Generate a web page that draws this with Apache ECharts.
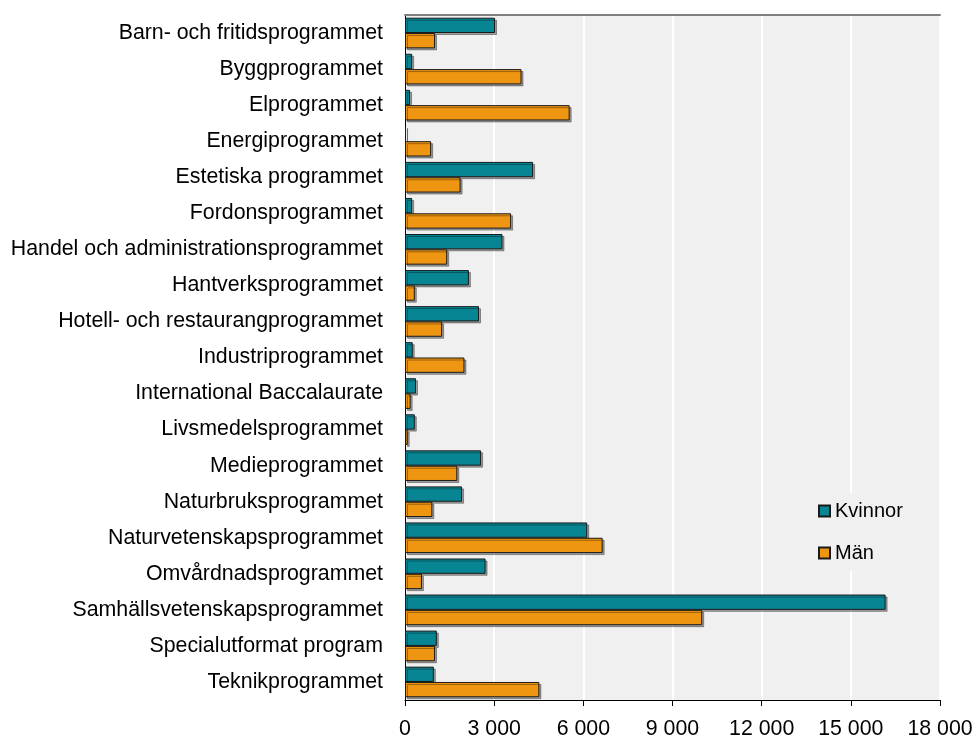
<!DOCTYPE html>
<html>
<head>
<meta charset="utf-8">
<script src="https://cdn.jsdelivr.net/npm/echarts@6/dist/echarts.min.js"></script>
<style>
html,body{margin:0;padding:0;background:#fff;}
#chart{width:976px;height:740px;}
</style>
</head>
<body>
<div id="chart"></div>
<script>
var categories = [
  "Barn- och fritidsprogrammet",
  "Byggprogrammet",
  "Elprogrammet",
  "Energiprogrammet",
  "Estetiska programmet",
  "Fordonsprogrammet",
  "Handel och administrationsprogrammet",
  "Hantverksprogrammet",
  "Hotell- och restaurangprogrammet",
  "Industriprogrammet",
  "International Baccalaurate",
  "Livsmedelsprogrammet",
  "Medieprogrammet",
  "Naturbruksprogrammet",
  "Naturvetenskapsprogrammet",
  "Omvårdnadsprogrammet",
  "Samhällsvetenskapsprogrammet",
  "Specialutformat program",
  "Teknikprogrammet"
];
var kvinnor = [3030, 240, 170, 35, 4310, 240, 3280, 2150, 2490, 260, 370, 330, 2560, 1920, 6130, 2710, 16170, 1070, 970];
var man     = [1010, 3920, 5540, 880, 1870, 3570, 1420, 330, 1250, 2000, 190, 90, 1760, 920, 6650, 570, 10000, 1010, 4520];
var xTicks = { min: 0, max: 18000, interval: 3000 };

var font = "Liberation Sans, Arial, sans-serif";
var chart = echarts.init(document.getElementById('chart'));
function fmt(v){ return v === 0 ? '0' : String(v).replace(/\B(?=(\d{3})+(?!\d))/g, ' '); }
var shadow = { shadowColor: 'rgba(0,0,0,0.35)', shadowOffsetX: 2, shadowOffsetY: 2, shadowBlur: 0 };
chart.setOption({
  animation: false,
  textStyle: { fontFamily: font },
  grid: { left: 405, right: 36, top: 15, bottom: 38, show: true, backgroundColor: '#F0F0F0', borderWidth: 0 },
  legend: {
    orient: 'vertical', left: 812, top: 493,
    icon: 'rect',
    itemWidth: 11, itemHeight: 11, itemGap: 22,
    backgroundColor: '#F0F0F0', padding: [8, 6, 8, 6],
    textStyle: { fontSize: 20, color: '#000', fontFamily: font },
    data: ['Kvinnor', 'Män']
  },
  xAxis: [{
    type: 'value', min: xTicks.min, max: xTicks.max, interval: xTicks.interval,
    position: 'bottom',
    axisLine: { show: true, lineStyle: { color: '#000', width: 1 } },
    axisTick: { show: true, length: 6, lineStyle: { color: '#000' } },
    axisLabel: { color: '#000', fontSize: 21.33, margin: 19, formatter: fmt, fontFamily: font },
    splitLine: { show: true, lineStyle: { color: '#FFFFFF', width: 2 } }
  }, {
    type: 'value', min: xTicks.min, max: xTicks.max, interval: xTicks.interval,
    position: 'top',
    axisLine: { show: true, lineStyle: { color: '#808080', width: 2 } },
    axisTick: { show: false }, axisLabel: { show: false }, splitLine: { show: false }
  }],
  yAxis: [{
    type: 'category', data: categories, inverse: true,
    axisLine: { show: true, lineStyle: { color: '#000', width: 1 } },
    axisTick: { show: false },
    axisLabel: { color: '#000', fontSize: 21.33, margin: 22, fontFamily: font },
    splitLine: { show: false }
  }, {
    type: 'category', data: categories, inverse: true, position: 'right',
    axisLine: { show: true, lineStyle: { color: '#000', width: 1 } },
    axisTick: { show: false }, axisLabel: { show: false }, splitLine: { show: false }
  }],
  series: [{
    name: 'Kvinnor', type: 'bar', data: kvinnor,
    barGap: '0%', barCategoryGap: '15%',
    itemStyle: Object.assign({ color: '#078592', borderColor: '#1a1a1a', borderWidth: 1 }, shadow)
  }, {
    name: 'Män', type: 'bar', data: man,
    barGap: '0%', barCategoryGap: '15%',
    itemStyle: Object.assign({ color: '#EE9512', borderColor: '#1a1a1a', borderWidth: 1 }, shadow)
  }]
});
</script>
</body>
</html>
